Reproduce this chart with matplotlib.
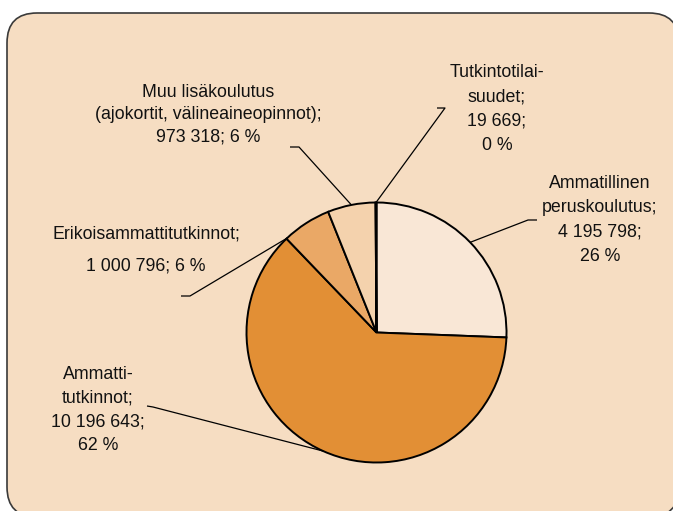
import matplotlib
matplotlib.use("Agg")
import matplotlib.pyplot as plt
from matplotlib.patches import FancyBboxPatch
import numpy as np

# Data
categories = ["Ammatillinen\nperuskoulutus;", "Ammatti-\ntutkinnot;", "Erikoisammattitutkinnot;",
              "Muu lisäkoulutus\n(ajokortit, välineaineopinnot);", "Tutkintotilai-\nsuudet;"]
values = [4195798, 10196643, 1000796, 973318, 19669]
value_labels = ["4 195 798;", "10 196 643;", "1 000 796; 6 %", "973 318; 6 %", "19 669;"]
pct_labels = ["26 %", "62 %", "", "", "0 %"]
colors = ["#F9E7D6", "#E28F35", "#EAA866", "#F4D2AD", "#F4D2AD"]

W, H = 673, 511
fig = plt.figure(figsize=(W / 100, H / 100), dpi=100)
fig.patch.set_facecolor("white")
ax = fig.add_axes([0, 0, 1, 1])

def Y(y):
    return H - y

# background rounded box
box = FancyBboxPatch((7, Y(517)), 672, 504, boxstyle="round,pad=0,rounding_size=30",
                     facecolor="#F6DDC2", edgecolor="#3a3a3a", linewidth=1.2, zorder=0)
ax.add_patch(box)

cx, cy, R = 376.5, Y(332.5), 130
wedges, _ = ax.pie(values, colors=colors, startangle=90, counterclock=False,
                   center=(cx, cy), radius=R,
                   wedgeprops=dict(edgecolor="black", linewidth=1.4))
ax.set_xlim(0, W)
ax.set_ylim(0, H)
ax.set_aspect("equal")
ax.axis("off")

font = dict(family=["Liberation Sans", "DejaVu Sans"], fontsize=12.8, color="#111111")

# label texts (layout positions)
texts = [
    (categories[0] + "\n" + value_labels[0] + "\n" + pct_labels[0], 600, 220, 1.56),
    (categories[1] + "\n" + value_labels[1] + "\n" + pct_labels[1], 98, 410, 1.52),
    (categories[2] + "\n" + value_labels[2], 146, 250, 2.2),
    (categories[3] + "\n" + value_labels[3], 208, 114.5, 1.4),
    (categories[4] + "\n" + value_labels[4] + "\n" + pct_labels[4], 497, 109, 1.57),
]
for t, x, y, ls in texts:
    ax.text(x, Y(y), t, ha="center", va="center", linespacing=ls, zorder=5, **font)

# leader lines: (horizontal start, horizontal end) in px, end on pie from wedge angle
leaders = [
    ((537, 220), (528, 220), None),
    ((147, 406), (153, 407), None),
    ((181, 296), (190, 296), "t2"),
    ((290, 147), (299, 147), None),
    ((437, 108), (445, 108), None),
]
for w, (p0, p1, mode) in zip(wedges, leaders):
    if mode == "t2":
        ang = w.theta2 - 0.4
    else:
        ang = 0.5 * (w.theta1 + w.theta2)
    ex = cx + R * np.cos(np.radians(ang))
    ey = cy + R * np.sin(np.radians(ang))
    ax.plot([p0[0], p1[0], ex], [Y(p0[1]), Y(p1[1]), ey], color="black",
            linewidth=0.9, zorder=4, solid_capstyle="butt")

fig.savefig("out.png", dpi=100, facecolor="white")
